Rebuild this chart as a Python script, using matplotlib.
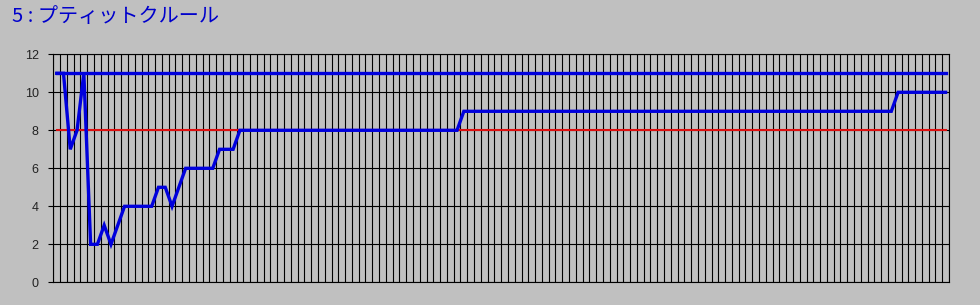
import numpy as np
import matplotlib.pyplot as plt

title = '5 : プティットクルール'

# ranks per race
values = ([11, 11, 7, 8, 11, 2, 2, 3, 2, 3, 4, 4, 4, 4, 4, 5, 5, 4, 5, 6,
           6, 6, 6, 6, 7, 7, 7]
          + [8] * 33
          + [9] * 64
          + [10] * 8)
upper = 11
target = 8
y_ticks = [0, 2, 4, 6, 8, 10, 12]

n = len(values)
x = np.arange(n)

plt.rcParams['font.family'] = ['Noto Sans CJK JP', 'DejaVu Sans']

fig = plt.figure(figsize=(9.8, 3.05), dpi=100, facecolor='#c0c0c0')
ax = fig.add_axes([53.3 / 980, 1 - 282.3 / 305, (949 - 53.3) / 980, (282.3 - 54.3) / 305])
ax.set_facecolor('#c0c0c0')

ax.plot(x, [upper] * n, color='#0000dd', linewidth=2.4, solid_capstyle='projecting', zorder=3)
ax.plot(x, [target] * n, color='#dd1010', linewidth=1.5, zorder=3)
ax.plot(x, values, color='#0000dd', linewidth=2.4, solid_joinstyle='miter', zorder=4)

ax.set_xlim(-0.5, n - 0.5)
ax.set_ylim(0, 12)
ax.set_xticks(np.arange(-0.5, n, 1))
ax.set_xticklabels([])
ax.tick_params(axis='x', length=0)
ax.set_yticks(y_ticks)
ax.set_yticklabels([str(v) for v in y_ticks], family='Liberation Sans', fontsize=9, color='#222222')
ax.tick_params(axis='y', length=3.6, width=0.8, color='black', pad=7)
ax.grid(color='black', linewidth=0.8)
ax.set_axisbelow(True)
for s in ax.spines.values():
    s.set_color('black')
    s.set_linewidth(0.8)

fig.text(12 / 980, 1 - 16 / 305, title, color='#0000cc', fontsize=14.5, va='center', ha='left')

fig.savefig('out.png', dpi=100, facecolor='#c0c0c0')
